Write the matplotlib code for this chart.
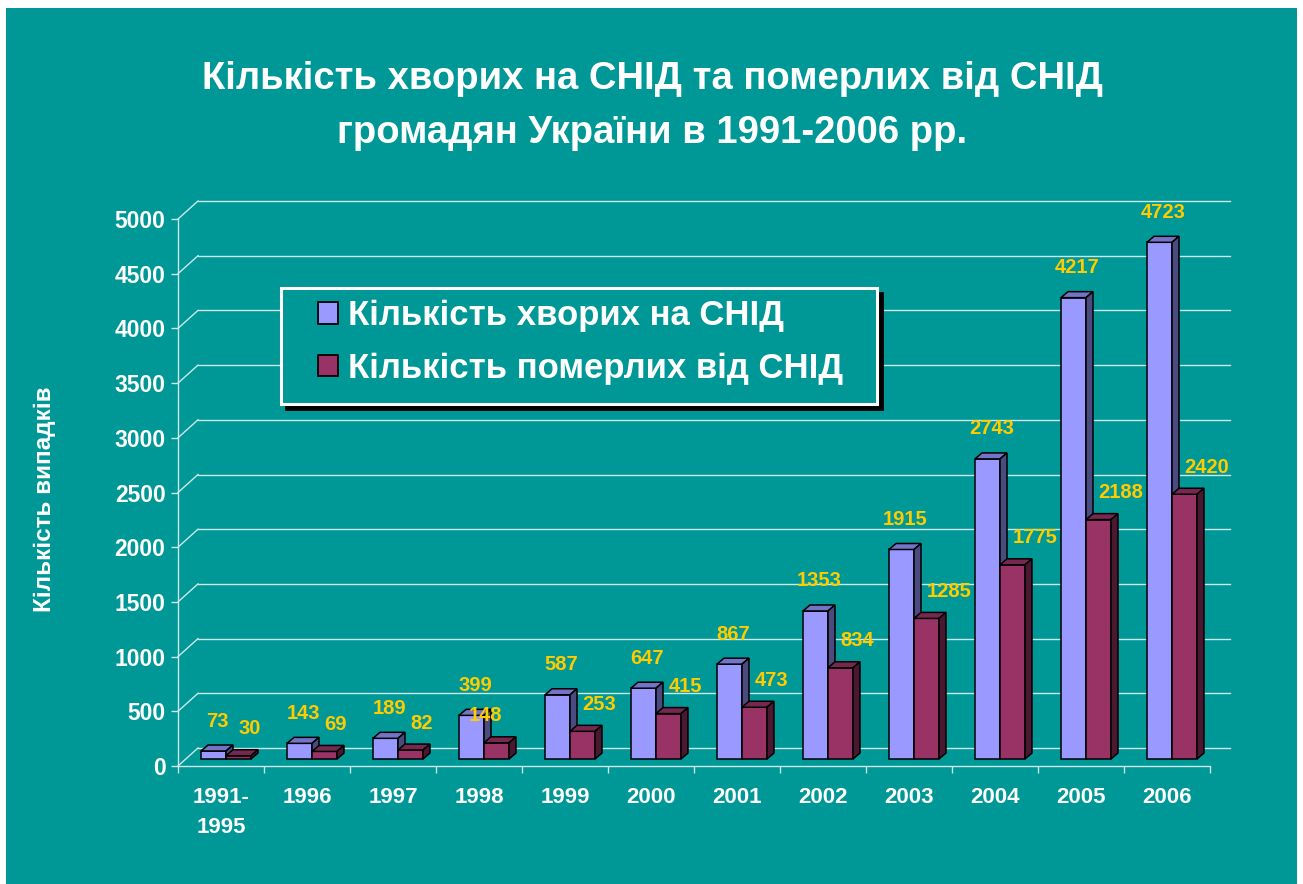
import matplotlib
matplotlib.use("Agg")
import matplotlib.pyplot as plt
from matplotlib.patches import Polygon, Rectangle, Patch

plt.rcParams['font.family'] = ['Liberation Sans', 'DejaVu Sans']

# ---------------- data ----------------
categories = ["1991-\n1995", "1996", "1997", "1998", "1999", "2000",
              "2001", "2002", "2003", "2004", "2005", "2006"]
sick = [73, 143, 189, 399, 587, 647, 867, 1353, 1915, 2743, 4217, 4723]
dead = [30, 69, 82, 148, 253, 415, 473, 834, 1285, 1775, 2188, 2420]
series_names = ["Кількість хворих на СНІД", "Кількість померлих від СНІД"]
yticks = list(range(0, 5001, 500))
title = "Кількість хворих на СНІД та померлих від СНІД\nгромадян України в 1991-2006 рр."
ylabel = "Кількість випадків"

# ---------------- style ----------------
W, H = 1303, 884
TEAL = "#009797"
GRID = "#cde8e8"
WHITE = "white"
LABEL = "#FFCC00"
BLUE = ("#9999FF", "#7373C8", "#4B4B80")   # front, top, side
RED = ("#993366", "#762850", "#4A1831")

PXX = 86.0      # pixels per category
PXY = 0.1094    # pixels per value unit

def dx(px):
    return px / PXX

def dy(px):
    return px / PXY

fig = plt.figure(figsize=(W / 100, H / 100), dpi=100)
fig.patch.set_facecolor("white")
fig.patches.append(Rectangle((6 / W, 0), (1297 - 6) / W, (H - 8) / H,
                             transform=fig.transFigure, facecolor=TEAL,
                             edgecolor="none", zorder=-10))

# legend box (drawn as figure patches) with black shadow
lb_l, lb_t, lb_r, lb_b = 281, 288, 877, 404
fig.patches.append(Rectangle(((lb_l + 5) / W, 1 - (lb_b + 5) / H), (lb_r - lb_l) / W,
                             (lb_b - lb_t) / H, transform=fig.transFigure,
                             facecolor="black", edgecolor="black", lw=2, zorder=5))
fig.patches.append(Rectangle((lb_l / W, 1 - lb_b / H), (lb_r - lb_l) / W,
                             (lb_b - lb_t) / H, transform=fig.transFigure,
                             facecolor=TEAL, edgecolor=WHITE, lw=2.2, zorder=6))

ax_l, ax_r, ax_b, ax_t = 178, 1240, 766, 190
ax = fig.add_axes([ax_l / W, (H - ax_b) / H, (ax_r - ax_l) / W, (ax_b - ax_t) / H])
ax.set_zorder(1)
ax.set_xlim(0, (ax_r - ax_l) / PXX)
ax.set_ylim(0, (ax_b - ax_t) / PXY)
ax.patch.set_visible(False)
for s in ["top", "right"]:
    ax.spines[s].set_visible(False)
ax.spines["left"].set_bounds(0, yticks[-1])
ax.spines["bottom"].set_bounds(0, len(categories))
for s in ["left", "bottom"]:
    ax.spines[s].set_color(GRID)
    ax.spines[s].set_linewidth(1.0)

# back wall gridlines + diagonals
wx, wy = dx(20), dy(18)
x_end = dx(1230 - ax_l)
for v in yticks:
    ax.plot([wx, x_end], [v + wy, v + wy], color=GRID, lw=1.0, clip_on=False, zorder=1)
    ax.plot([0, wx], [v, v + wy], color=GRID, lw=1.0, clip_on=False, zorder=1)

# ticks
ax.set_yticks(yticks)
ax.set_yticklabels([str(t) for t in yticks])
ax.tick_params(axis="y", length=5, width=1.0, color=GRID, pad=4,
               labelcolor=WHITE, labelsize=16.5)
ax.set_xticks([i + 0.5 for i in range(len(categories))])
ax.set_xticklabels(categories, linespacing=1.55)
ax.set_xticks(list(range(len(categories) + 1)), minor=True)
ax.tick_params(axis="x", which="major", length=0, pad=15, labelcolor=WHITE, labelsize=16)
ax.tick_params(axis="x", which="minor", length=5, width=1.0, color=GRID)
for lab in ax.get_xticklabels() + ax.get_yticklabels():
    lab.set_fontweight("bold")

ax.set_ylabel(ylabel, color=WHITE, fontsize=17.5, fontweight="bold")
ax.yaxis.set_label_coords((56 - ax_l) / (ax_r - ax_l), (ax_b - 499) / (ax_b - ax_t))

# 3D-looking bars
floor = dy(7)
bw = dx(25)
ddx, ddy = dx(7), dy(6)
start = dx(23)

def bar3d(x0, v, cols, z):
    top = floor + v
    ax.add_patch(Rectangle((x0, floor), bw, v, facecolor=cols[0], edgecolor="black",
                           lw=1.1, zorder=z, clip_on=False))
    ax.add_patch(Polygon([(x0, top), (x0 + bw, top), (x0 + bw + ddx, top + ddy),
                          (x0 + ddx, top + ddy)], closed=True, facecolor=cols[1],
                         edgecolor="black", lw=1.1, zorder=z, clip_on=False))
    ax.add_patch(Polygon([(x0 + bw, floor), (x0 + bw + ddx, floor + ddy),
                          (x0 + bw + ddx, top + ddy), (x0 + bw, top)], closed=True,
                         facecolor=cols[2], edgecolor="black", lw=1.1, zorder=z,
                         clip_on=False))

red_nudge = {3: -28}
for i, (s, d) in enumerate(zip(sick, dead)):
    xb = i + start
    xr = xb + bw
    bar3d(xb, s, BLUE, 3 + 2 * i)
    bar3d(xr, d, RED, 4 + 2 * i)
    ax.text(xb + bw / 2 + dx(4), floor + s + dy(30), str(s), color=LABEL,
            fontsize=14.5, fontweight="bold", ha="center", va="center", zorder=50)
    ax.text(xr + bw / 2 + dx(red_nudge.get(i, 0)), floor + d + dy(27), str(d),
            color=LABEL, fontsize=14.5, fontweight="bold", ha="left", va="center",
            zorder=50)

# title
fig.text(652 / W, 1 - 106 / H, title, ha="center", va="center", color=WHITE,
         fontsize=27.5, fontweight="bold", linespacing=1.63)

# legend (frameless, inside the drawn box)
handles = [Patch(facecolor=BLUE[0], edgecolor="black", lw=1.3),
           Patch(facecolor=RED[0], edgecolor="black", lw=1.3)]
leg = fig.legend(handles, series_names, loc="upper left",
                 bbox_to_anchor=(318 / W, 1 - 299 / H), frameon=False, fontsize=25,
                 handlelength=0.58, handleheight=0.58, handletextpad=0.29,
                 borderpad=0, labelspacing=0.57, borderaxespad=0)
leg.set_zorder(7)
for t in leg.get_texts():
    t.set_color(WHITE)
    t.set_fontweight("bold")

fig.savefig("out.png", dpi=100, facecolor=fig.get_facecolor())
